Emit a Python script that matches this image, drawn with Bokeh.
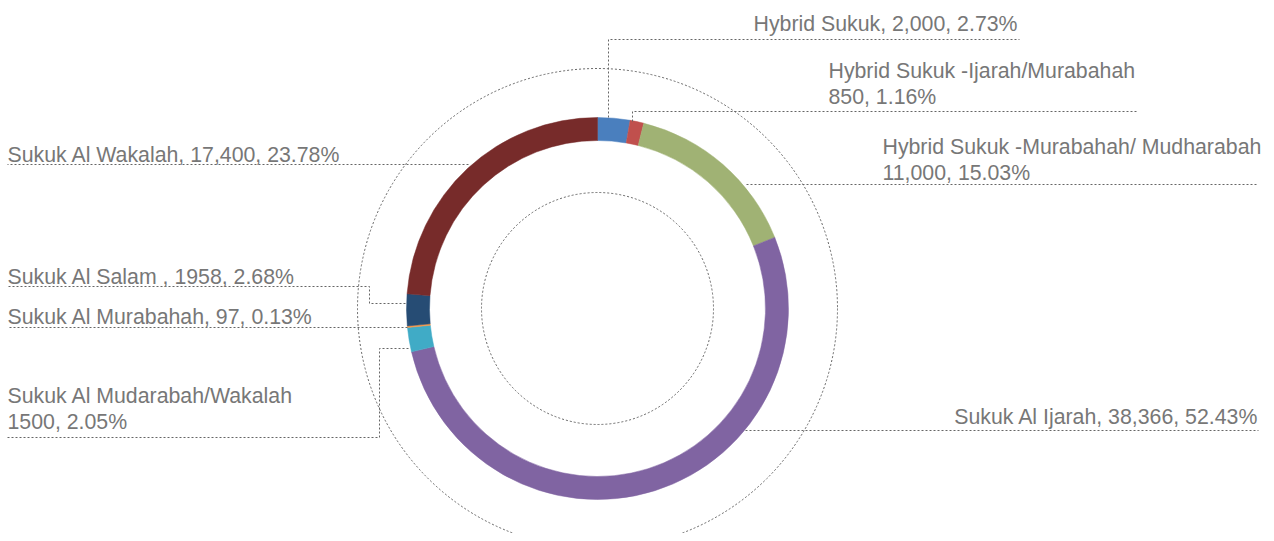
import math
from bokeh.plotting import figure
from bokeh.models import Range1d, ColumnDataSource
from bokeh.core.properties import value
from bokeh.embed import file_html
from bokeh.resources import INLINE

# ---- data ----
categories = ["Hybrid Sukuk", "Hybrid Sukuk -Ijarah/Murabahah",
              "Hybrid Sukuk -Murabahah/ Mudharabah", "Sukuk Al Ijarah",
              "Sukuk Al Mudarabah/Wakalah", "Sukuk Al Murabahah",
              "Sukuk Al Salam", "Sukuk Al Wakalah"]
amounts = [2000, 850, 11000, 38366, 1500, 97, 1958, 17400]
colors = ["#4a7fbe", "#c0504d", "#a0b274", "#8064a2",
          "#40abc6", "#f79646", "#264c74", "#772b2a"]
label_lines = [
    ["Hybrid Sukuk, 2,000, 2.73%"],
    ["Hybrid Sukuk -Ijarah/Murabahah", "850, 1.16%"],
    ["Hybrid Sukuk -Murabahah/ Mudharabah", "11,000, 15.03%"],
    ["Sukuk Al Ijarah, 38,366, 52.43%"],
    ["Sukuk Al Mudarabah/Wakalah", "1500, 2.05%"],
    ["Sukuk Al Murabahah, 97, 0.13%"],
    ["Sukuk Al Salam , 1958, 2.68%"],
    ["Sukuk Al Wakalah, 17,400, 23.78%"],
]

# ---- layout (pixel coordinates of the picture, y downwards) ----
W, H = 1266, 533
PAGE_H = 541
def Y(sy):
    return PAGE_H - sy

CX, CY = 597, 308
R_IN, R_OUT = 168, 191
R_GUIDE_IN, R_GUIDE_OUT = 116, 240
TEXT_SHIFT = 7

# label anchor: (x, first baseline y, align)
label_pos = [
    (1017, 30, "right"),
    (828, 77, "left"),
    (882, 153, "left"),
    (1258, 423, "right"),
    (7, 402, "left"),
    (7, 323, "left"),
    (7, 283, "left"),
    (7, 161, "left"),
]
leaders = [
    [(608, 117), (608, 39), (1019, 39)],
    [(632, 121), (632, 111), (1137, 111)],
    [(746, 184), (1258, 184)],
    [(745, 430), (1258, 430)],
    [(408, 348), (379, 348), (379, 437), (7, 437)],
    [(407, 327), (8, 327)],
    [(405, 303), (369, 303), (369, 286), (7, 286)],
    [(468, 164), (7, 164)],
]
LINE_GAP = 26

p = figure(width=W, height=H, output_backend="svg", toolbar_location=None,
           x_range=Range1d(0, W), y_range=Range1d(PAGE_H - H, PAGE_H),
           min_border=0, outline_line_color=None)
p.axis.visible = False
p.grid.visible = False
p.background_fill_color = "white"
p.border_fill_color = "white"

total = float(sum(amounts))
starts, ends = [], []
acc = 0.0
for a in amounts:
    starts.append(math.pi / 2 - 2 * math.pi * acc / total)
    acc += a
    ends.append(math.pi / 2 - 2 * math.pi * acc / total)

src = ColumnDataSource(dict(start=starts, end=ends, color=colors, cat=categories))
p.annular_wedge(x=CX, y=Y(CY), inner_radius=R_IN, outer_radius=R_OUT,
                start_angle="start", end_angle="end", direction="clock",
                fill_color="color", line_color="color", line_width=0.5, source=src)

# dotted guide circles
for r in (R_GUIDE_IN, R_GUIDE_OUT):
    p.circle(x=CX, y=Y(CY), radius=r, fill_color=None, line_color="#666666",
             line_width=1, line_dash="2 2")

# leader lines
p.multi_line(xs=[[pt[0] for pt in l] for l in leaders],
             ys=[[Y(pt[1]) for pt in l] for l in leaders],
             line_color="#666666", line_width=1, line_dash="2 2")

# labels
tx, ty, tt, ta = [], [], [], []
for lines, (x, y, al) in zip(label_lines, label_pos):
    for i, s in enumerate(lines):
        tx.append(x); ty.append(Y(y - TEXT_SHIFT + i * LINE_GAP)); tt.append(s); ta.append(al)
p.text(x=tx, y=ty, text=tt, text_align=ta, text_baseline="alphabetic",
       text_font=value("Liberation Sans"), text_font_size="21.3px",
       text_color="#777777")

open("out.html", "w").write(file_html(p, INLINE))
